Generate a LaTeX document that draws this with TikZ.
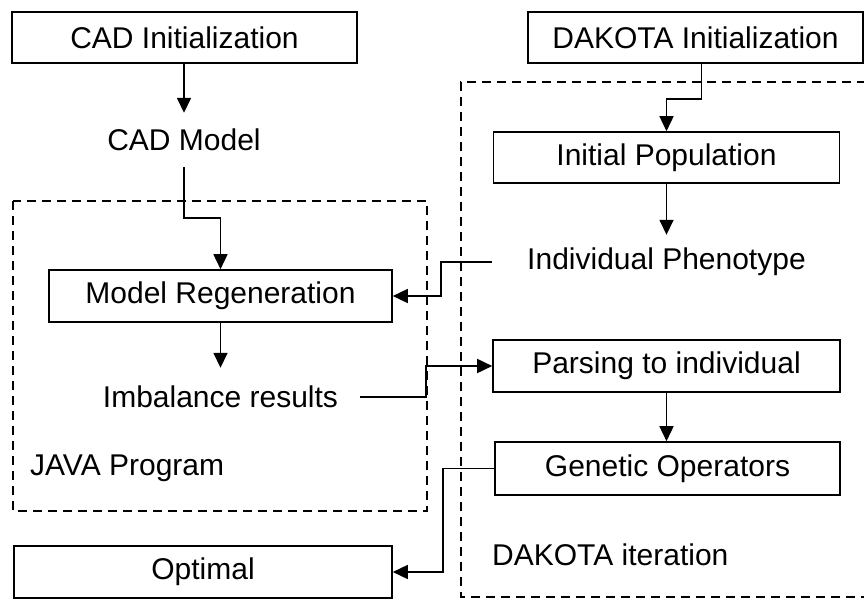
\documentclass[tikz,border=0pt]{standalone}
\usepackage{fontspec}
\setmainfont{Liberation Sans}
\usetikzlibrary{arrows.meta}
\begin{document}
\begin{tikzpicture}[x=1pt,y=-1pt,
  every node/.style={font=\fontsize{30}{34}\selectfont, inner sep=0pt},
  box/.style={draw, line width=1.6pt, minimum height=51pt},
  lbl/.style={minimum height=54pt},
  arr/.style={line width=1.6pt, -{Triangle[length=15pt,width=14pt]}},
  region/.style={line width=1.4pt, dash pattern=on 9pt off 6pt}
]
\useasboundingbox (0,0) rectangle (864,599);
% regions
\draw[region] (13,201) rectangle (427,511);
\draw[region] (866,82) -- (461,82) -- (461,597) -- (866,597);
% left column
\node[box, minimum width=345pt] (cadinit) at (184.5,37.5) {CAD Initialization};
\node[lbl] (cadmodel) at (184,140) {CAD Model};
\node[box, minimum width=343pt, minimum height=52pt] (modregen) at (220.5,296) {Model Regeneration};
\node[minimum height=58pt, inner xsep=22pt] (imbal) at (220.5,397) {Imbalance results};
\node[anchor=west] (java) at (30,468) {JAVA Program};
\node[box, minimum width=378pt, minimum height=52pt] (optimal) at (203,572) {Optimal};
% right column
\node[box, minimum width=335pt] (dakinit) at (695.5,37.5) {DAKOTA Initialization};
\node[box, minimum width=346pt] (initpop) at (666.5,157.5) {Initial Population};
\node[lbl, inner xsep=35pt] (phen) at (666.5,262) {Individual Phenotype};
\node[box, minimum width=347pt, minimum height=52pt] (parsing) at (666.5,366) {Parsing to individual};
\node[box, minimum width=345pt, minimum height=53pt] (genetic) at (667.5,468.5) {Genetic Operators};
\node[anchor=west] (dakit) at (492,555) {DAKOTA iteration};
\coordinate (j1) at (426,397);
% connectors
\draw[arr] (cadinit.south -| cadmodel.north) -- (cadmodel.north);
\draw[arr] (cadmodel.south) -- ++(0,51) -| (modregen.north);
\draw[arr] (modregen.south) -- (imbal.north);
\draw[arr] (imbal.east) -- (j1) |- (parsing.west);
\draw[arr] (phen.west) -- ++(-51,0) |- (modregen.east);
\draw[arr] ([xshift=6pt]dakinit.south) -- ++(0,35) -| (initpop.north);
\draw[arr] (initpop.south) -- (phen.north);
\draw[arr] (parsing.south) -- (parsing.south |- genetic.north);
\draw[arr] (genetic.west) -- ++(-51,0) |- (optimal.east);
\end{tikzpicture}
\end{document}
